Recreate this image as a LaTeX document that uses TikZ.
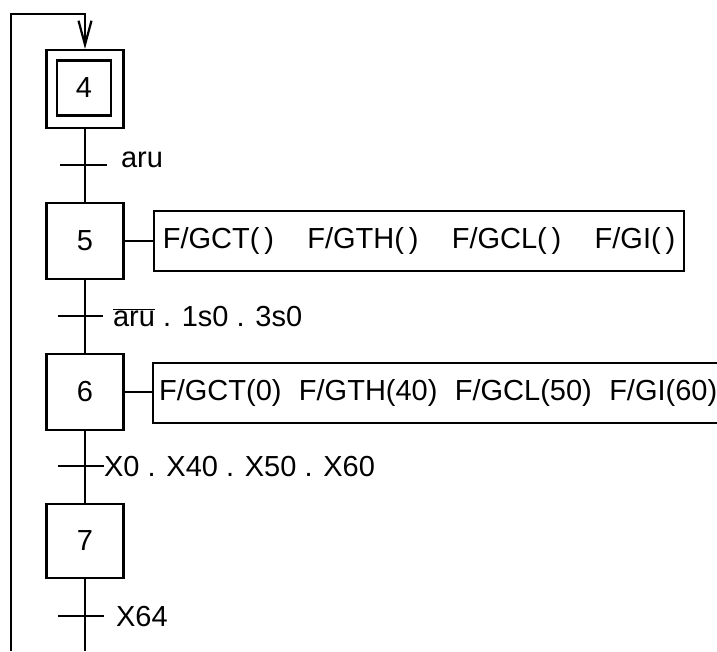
\documentclass[tikz,border=0pt]{standalone}
\usepackage{fontspec}
\setmainfont{Liberation Sans}
\usetikzlibrary{arrows.meta}
\begin{document}
\begin{tikzpicture}[x=1pt,y=1pt,line width=2.2pt,
  txt/.style={inner sep=0pt,font=\fontsize{29}{35}\selectfont},
  stepbox/.style={draw,txt,minimum width=77pt,minimum height=76pt},
  actbox/.style={draw,txt,minimum height=60pt},
  lbl/.style={txt,anchor=base west}]
\useasboundingbox (0,0) rectangle (717,-651);
% steps
\node[stepbox,minimum width=77pt,minimum height=78pt] (s4) at (85,-89) {};
\node[draw,txt,minimum width=54pt,minimum height=55pt] (s4i) at (84,-88) {4};
\node[stepbox] (s5) at (85,-241) {5};
\node[stepbox] (s6) at (85,-392) {6};
\node[stepbox,minimum height=74pt] (s7) at (85,-541) {7};
% actions
\node[actbox,minimum width=530pt] (a5) at (419,-241) {F/GCT(\,)\hspace{1.15em}F/GTH(\,)\hspace{1.15em}F/GCL(\,)\hspace{1.15em}F/GI(\,)};
\node[txt,anchor=west] (a6) at (158,-393) {F/GCT(0)\hspace{0.6em}F/GTH(40)\hspace{0.6em}F/GCL(50)\hspace{0.6em}F/GI(60)};
\coordinate (a6w) at (153,-392);
\draw (717,-363) -- (153,-363) -- (153,-423) -- (717,-423);
\draw (s5.east) -- (s5.east -| a5.west);
\draw (s6.east) -- (a6w);
% transitions
\coordinate (t1) at (85,-165);
\coordinate (t2) at (85,-316);
\coordinate (t3) at (85,-466);
\coordinate (t4) at (85,-616);
\draw (t1) ++(-25,0) -- ++(47,0);
\draw (t2) ++(-27,0) -- ++(45,0);
\draw (t3) ++(-27,0) -- ++(46,0);
\draw (t4) ++(-27,0) -- ++(46,0);
\node[lbl] (c1) at (120,-167) {aru};
\node[lbl] (c2) at (112,-326) {$\overline{\mbox{aru}}$ . 1s0 . 3s0};
\node[lbl] (c3) at (103,-476) {X0 . X40 . X50 . X60};
\node[lbl] (c4) at (115,-626) {X64};
% main line
\draw (s4.south) -- (s5.north);
\draw (s5.south) -- (s6.north);
\draw (s6.south) -- (s7.north);
\coordinate (bot) at (85,-651);
\draw (s7.south) -- (bot);
% loop
\coordinate (lb) at (11,-651);
\coordinate (lt) at (11,-14);
\coordinate (rt) at (85,-14);
\draw[-{Straight Barb[length=24pt,width=13pt]}] (lb) -- (lt) -- (rt) -- (s4.north);
\end{tikzpicture}
\end{document}
